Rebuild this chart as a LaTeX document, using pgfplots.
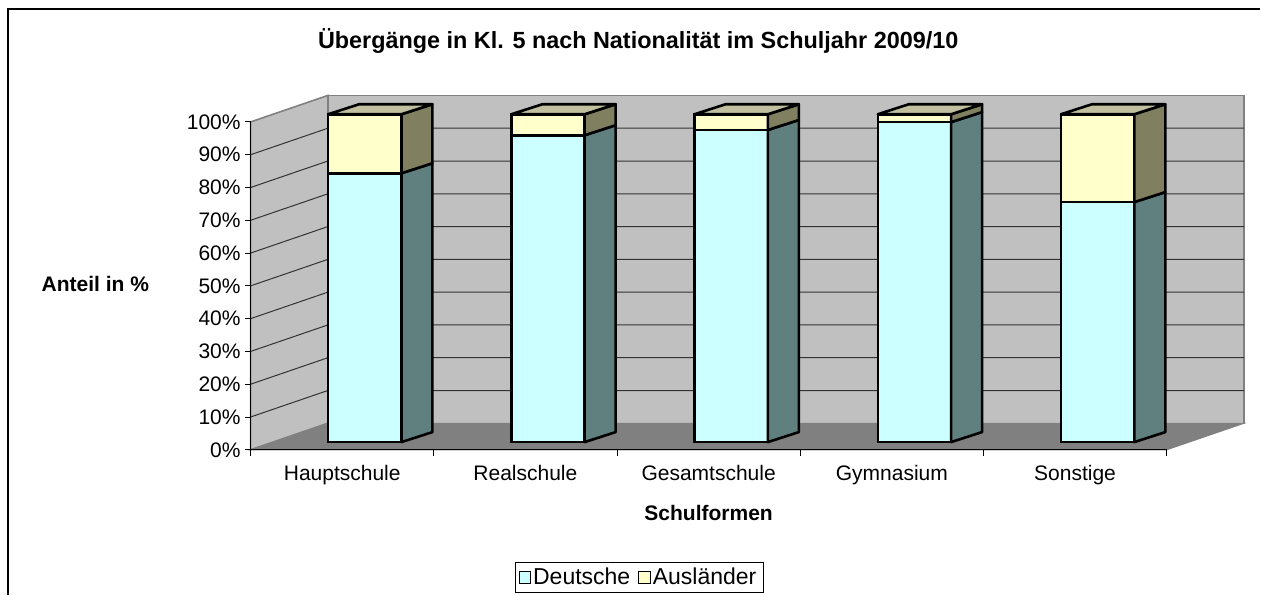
\documentclass[border=0pt]{standalone}
\usepackage{fontspec}
\setmainfont{Liberation Sans}
\usepackage{pgfplots}
\pgfplotsset{compat=1.18}
\definecolor{wallc}{HTML}{C0C0C0}
\definecolor{floorc}{HTML}{808080}
\definecolor{deu}{HTML}{CCFFFF}
\definecolor{deuside}{HTML}{608080}
\definecolor{aus}{HTML}{FFFFCC}
\definecolor{ausside}{HTML}{808060}
\definecolor{topc}{HTML}{C0C0A0}
\newcommand{\lblfont}{\fontsize{10.5}{12.6}\selectfont}
\pgfplotsset{myaxis/.style={at={(125.35pt,72.5pt)}, anchor=south west,
  x=91.65pt, y=1.64pt, xmin=-0.1236, xmax=4.8764, ymin=-2.35, ymax=97.65, clip=false}}
\begin{document}
\begin{tikzpicture}
\path (0,0) rectangle (630.5pt,297.5pt);
\draw[line width=0.6pt] (4pt,0pt) -- (4pt,293pt) -- (630.5pt,293pt);
% background: walls, floor, grid, axes
\begin{axis}[myaxis,
  axis lines=left, axis line style={-, black, line width=0.6pt},
  axis on top,
  tick align=outside, major tick length=3pt,
  tick style={black, line width=0.5pt},
  xtick={-0.1236,0.8764,1.8764,2.8764,3.8764,4.8764},
  xticklabels={},
  ytick={-2.35,7.65,17.65,27.65,37.65,47.65,57.65,67.65,77.65,87.65,97.65},
  yticklabels={0\%,10\%,20\%,30\%,40\%,50\%,60\%,70\%,80\%,90\%,100\%},
  yticklabel style={font=\lblfont, anchor=east, inner sep=0pt, xshift=-1.8pt},
]
\addplot[fill=wallc, draw=gray, line width=0.8pt] coordinates {(0.298,5.73)(5.298,5.73)(5.298,105.73)(0.298,105.73)} --cycle;
\addplot[fill=wallc, draw=gray, line width=0.8pt] coordinates {(-0.1236,-2.35)(0.298,5.73)(0.298,105.73)(-0.1236,97.65)} --cycle;
\addplot[fill=floorc, draw=gray, line width=0.5pt] coordinates {(-0.1236,-2.35)(4.8764,-2.35)(5.298,5.73)(0.298,5.73)} --cycle;
\addplot[draw=black!80, line width=0.5pt] coordinates {(-0.1236,7.65)(0.298,15.73)(5.298,15.73)};
\addplot[draw=black!80, line width=0.5pt] coordinates {(-0.1236,17.65)(0.298,25.73)(5.298,25.73)};
\addplot[draw=black!80, line width=0.5pt] coordinates {(-0.1236,27.65)(0.298,35.73)(5.298,35.73)};
\addplot[draw=black!80, line width=0.5pt] coordinates {(-0.1236,37.65)(0.298,45.73)(5.298,45.73)};
\addplot[draw=black!80, line width=0.5pt] coordinates {(-0.1236,47.65)(0.298,55.73)(5.298,55.73)};
\addplot[draw=black!80, line width=0.5pt] coordinates {(-0.1236,57.65)(0.298,65.73)(5.298,65.73)};
\addplot[draw=black!80, line width=0.5pt] coordinates {(-0.1236,67.65)(0.298,75.73)(5.298,75.73)};
\addplot[draw=black!80, line width=0.5pt] coordinates {(-0.1236,77.65)(0.298,85.73)(5.298,85.73)};
\addplot[draw=black!80, line width=0.5pt] coordinates {(-0.1236,87.65)(0.298,95.73)(5.298,95.73)};
\node[anchor=base, font=\lblfont] at (axis cs:0.3764,-11.8) {Hauptschule};
\node[anchor=base, font=\lblfont] at (axis cs:1.3764,-11.8) {Realschule};
\node[anchor=base, font=\lblfont] at (axis cs:2.3764,-11.8) {Gesamtschule};
\node[anchor=base, font=\lblfont] at (axis cs:3.3764,-11.8) {Gymnasium};
\node[anchor=base, font=\lblfont] at (axis cs:4.3764,-11.8) {Sonstige};
\node[anchor=base, font=\lblfont\bfseries] at (axis cs:2.3764,-23.8) {Schulformen};
\node[anchor=base east, font=\lblfont\bfseries, inner sep=0pt] at (axis cs:-0.6757,45.8) {Anteil in \%};
\node[anchor=base, font=\fontsize{11.7}{14}\selectfont\bfseries] at (axis cs:1.992,119.9) {Übergänge in Kl. 5 nach Nationalität im Schuljahr 2009/10};
\end{axis}
% front faces of the stacked bars
\begin{axis}[myaxis, hide axis, ybar stacked, bar width=0.4,
  legend image code/.code={\draw[#1, line width=0.5pt, draw=black] (0pt,-2.9pt) rectangle (5.8pt,2.9pt);},
  legend style={at={(0.4245,-0.4365)}, anchor=south, legend columns=2, draw=black, line width=0.5pt,
    fill=white, font=\fontsize{11.5}{13}\selectfont, inner xsep=1.5pt, inner ysep=0.5pt,
    /tikz/every even column/.append style={column sep=2pt},
    /tikz/every odd column/.append style={column sep=-1pt},
    legend cell align=left},
]
\addplot[fill=deu, draw=black, line width=1.3pt] coordinates {(0.5,82.0) (1.5,93.6) (2.5,95.2) (3.5,97.6) (4.5,73.2)};
\addplot[fill=aus, draw=black, line width=1.3pt] coordinates {(0.5,18.0) (1.5,6.4) (2.5,4.8) (3.5,2.4) (4.5,26.8)};
\legend{Deutsche,Ausländer}
\end{axis}
% side faces and tops
\begin{axis}[myaxis, hide axis]
\addplot[fill=deuside, draw=black, line width=1.3pt, line join=round] coordinates {(0.7,0)(0.869,3.05)(0.869,85.05)(0.7,82.0)} --cycle;
\addplot[fill=ausside, draw=black, line width=1.3pt, line join=round] coordinates {(0.7,82.0)(0.869,85.05)(0.869,103.05)(0.7,100)} --cycle;
\addplot[fill=topc, draw=black, line width=1.3pt, line join=round] coordinates {(0.3,100)(0.469,103.05)(0.869,103.05)(0.7,100)} --cycle;
\addplot[fill=deuside, draw=black, line width=1.3pt, line join=round] coordinates {(1.7,0)(1.869,3.05)(1.869,96.65)(1.7,93.6)} --cycle;
\addplot[fill=ausside, draw=black, line width=1.3pt, line join=round] coordinates {(1.7,93.6)(1.869,96.65)(1.869,103.05)(1.7,100)} --cycle;
\addplot[fill=topc, draw=black, line width=1.3pt, line join=round] coordinates {(1.3,100)(1.469,103.05)(1.869,103.05)(1.7,100)} --cycle;
\addplot[fill=deuside, draw=black, line width=1.3pt, line join=round] coordinates {(2.7,0)(2.869,3.05)(2.869,98.25)(2.7,95.2)} --cycle;
\addplot[fill=ausside, draw=black, line width=1.3pt, line join=round] coordinates {(2.7,95.2)(2.869,98.25)(2.869,103.05)(2.7,100)} --cycle;
\addplot[fill=topc, draw=black, line width=1.3pt, line join=round] coordinates {(2.3,100)(2.469,103.05)(2.869,103.05)(2.7,100)} --cycle;
\addplot[fill=deuside, draw=black, line width=1.3pt, line join=round] coordinates {(3.7,0)(3.869,3.05)(3.869,100.65)(3.7,97.6)} --cycle;
\addplot[fill=ausside, draw=black, line width=1.3pt, line join=round] coordinates {(3.7,97.6)(3.869,100.65)(3.869,103.05)(3.7,100)} --cycle;
\addplot[fill=topc, draw=black, line width=1.3pt, line join=round] coordinates {(3.3,100)(3.469,103.05)(3.869,103.05)(3.7,100)} --cycle;
\addplot[fill=deuside, draw=black, line width=1.3pt, line join=round] coordinates {(4.7,0)(4.869,3.05)(4.869,76.25)(4.7,73.2)} --cycle;
\addplot[fill=ausside, draw=black, line width=1.3pt, line join=round] coordinates {(4.7,73.2)(4.869,76.25)(4.869,103.05)(4.7,100)} --cycle;
\addplot[fill=topc, draw=black, line width=1.3pt, line join=round] coordinates {(4.3,100)(4.469,103.05)(4.869,103.05)(4.7,100)} --cycle;
\end{axis}
\end{tikzpicture}
\end{document}
